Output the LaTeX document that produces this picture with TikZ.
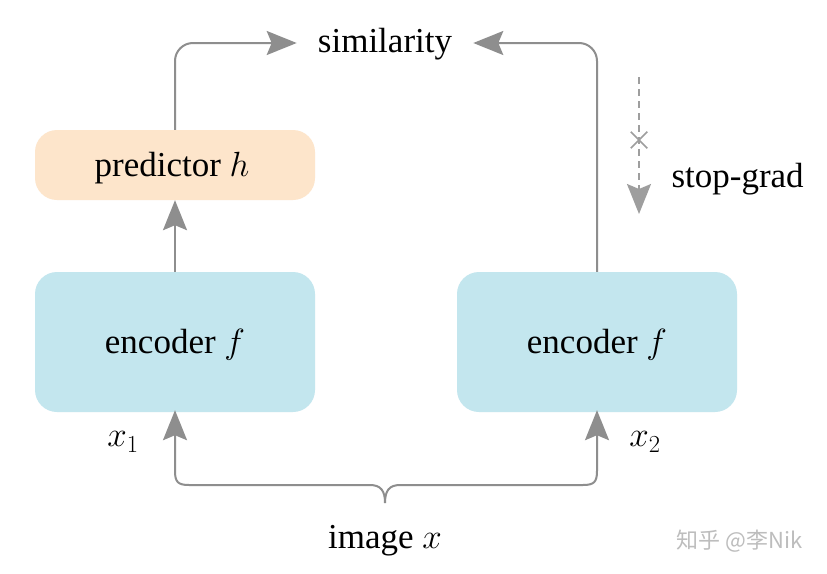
\RequirePackage{fix-cm}
\documentclass[tikz,border=0pt]{standalone}
\usepackage[no-math]{fontspec}
\setmainfont{Liberation Serif}
\newfontfamily\cjk{Noto Sans CJK SC}
\usetikzlibrary{arrows.meta,shapes.misc}
\definecolor{linegray}{HTML}{8E8E8E}
\definecolor{dashgray}{HTML}{9E9E9E}
\definecolor{boxblue}{HTML}{C3E6EE}
\definecolor{boxorange}{HTML}{FDE5CB}
\definecolor{wmgray}{HTML}{BDBDBD}
\begin{document}
\begin{tikzpicture}[x=1pt,y=-1pt,
  txt/.style={font=\fontsize{35}{42}\selectfont, text=black},
  box/.style={txt, rounded corners=22pt, minimum width=280pt, inner sep=0pt},
  arr/.style={draw=linegray, line width=2pt, -{Stealth[length=30pt,width=24pt,inset=5pt,fill=linegray]}},
  sgarr/.style={draw=dashgray, line width=1.6pt, dash pattern=on 7pt off 5pt, -{Stealth[length=30pt,width=24pt,inset=5pt,fill=dashgray]}},
]
\useasboundingbox (0,0) rectangle (827,573);
\fill[white] (0,0) rectangle (827,573);

% boxes
\node[box, fill=boxorange, minimum height=70pt] (pred) at (175,165) {};
\node[box, fill=boxblue, minimum height=140pt] (encL) at (175,342) {};
\node[box, fill=boxblue, minimum height=140pt] (encR) at (597,342) {};
\node[txt] (predt) at (172,168) {predictor $h$};
\node[txt] (encLt) at (175,345) {encoder $f$};
\node[txt] (encRt) at (597,345) {encoder $f$};

% texts
\coordinate (simc) at (385,43);
\node[txt, inner xsep=21pt, inner ysep=0pt, anchor=center] (sim) at ([yshift=-1pt]simc) {similarity};
\node[txt, anchor=west] (sg) at (668,179) {stop-grad};
\node[txt] (x1) at (123,442) {$x_1$};
\node[txt] (x2) at (645,442) {$x_2$};
\node[txt] (img) at (385,541) {image $x$};
\node[font=\cjk\fontsize{22}{26}\selectfont, text=wmgray, anchor=east] (wm) at (806,541) {知乎 @李Nik};

% top connectors
\draw[arr, rounded corners=18pt] (pred.north) |- ([yshift=1pt]sim.west);
\draw[arr, rounded corners=18pt] (encR.north) |- ([yshift=1pt]sim.east);
\draw[arr] (encL.north) -- (pred.south);

% stop-grad
\coordinate (sgtop) at (639,77);
\coordinate (sgend) at (639,214);
\draw[sgarr] (sgtop) -- (sgend);
\node[cross out, draw=dashgray, line width=1.5pt, minimum size=15pt, inner sep=0pt] (cross) at (639,140) {};

% bottom brace with arrows
\coordinate (brace) at (385,503);
\draw[arr] (brace) .. controls (385,491) and (381,485) .. (370,485) -- (189,485)
  .. controls (178,485) and (175,482) .. (175,471) -- ([yshift=2pt]encL.south);
\draw[arr] (brace) .. controls (385,491) and (389,485) .. (400,485) -- (583,485)
  .. controls (594,485) and (597,482) .. (597,471) -- ([yshift=2pt]encR.south);
\end{tikzpicture}
\end{document}
